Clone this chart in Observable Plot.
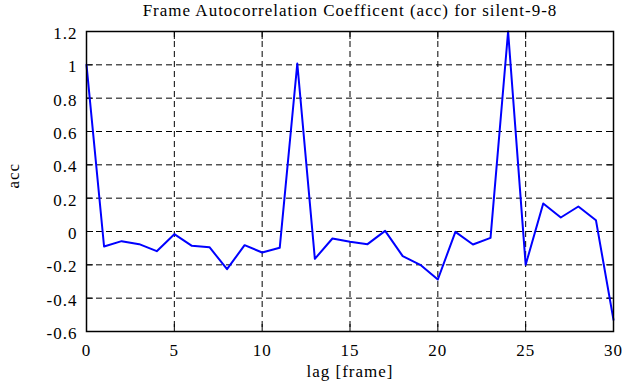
<!DOCTYPE html>
<html>
<head>
<meta charset="utf-8">
<script src="https://cdn.jsdelivr.net/npm/d3@7"></script>
<script src="https://cdn.jsdelivr.net/npm/@observablehq/plot@0.6"></script>
<style>
  html, body { margin: 0; padding: 0; background: #fff; }
  svg { display: block; }
  svg text { font-family: 'Liberation Serif', 'Times New Roman', serif !important; letter-spacing: 1px; }
</style>
</head>
<body>
<div id="chart"></div>
<script>
const titleText = "Frame Autocorrelation Coefficent (acc) for silent-9-8";
const xLabel = "lag [frame]";
const yLabel = "acc";

const lags = [0,1,2,3,4,5,6,7,8,9,10,11,12,13,14,15,16,17,18,19,20,21,22,23,24,25,26,27,28,29,30];
const accValues = [1.0,-0.09,-0.058,-0.076,-0.118,-0.016,-0.086,-0.094,-0.226,-0.082,-0.126,-0.098,1.008,-0.164,-0.042,-0.062,-0.076,0.004,-0.148,-0.2,-0.288,-0.002,-0.078,-0.038,1.2,-0.2,0.168,0.084,0.15,0.068,-0.53];

const xTicks = [0,5,10,15,20,25,30];
const yTicks = [-0.6,-0.4,-0.2,0,0.2,0.4,0.6,0.8,1,1.2];
const yTickLabels = ["-0.6","-0.4","-0.2","0","0.2","0.4","0.6","0.8","1","1.2"];

const data = lags.map((l, i) => ({lag: l, acc: accValues[i]}));
const font = "'Liberation Serif', 'Times New Roman', serif";

const chart = Plot.plot({
  width: 625,
  height: 387,
  marginLeft: 86,
  marginRight: 12,
  marginTop: 31,
  marginBottom: 56,
  style: {fontFamily: font, fontSize: "17px", background: "#fff", color: "#000"},
  x: {domain: [0, 30]},
  y: {domain: [-0.6, 1.2]},
  marks: [
    Plot.gridX(xTicks.slice(1, -1), {stroke: "#000", strokeOpacity: 1, strokeWidth: 1, strokeDasharray: "6,4"}),
    Plot.gridY(yTicks.slice(1, -1), {stroke: "#000", strokeOpacity: 1, strokeWidth: 1, strokeDasharray: "6,4"}),
    Plot.axisX(xTicks, {anchor: "bottom", tickSize: -7, text: null, label: null}),
    Plot.axisX(xTicks, {anchor: "top", tickSize: -7, text: null, label: null}),
    Plot.axisY(yTicks, {anchor: "left", tickSize: -7, text: null, label: null}),
    Plot.axisY(yTicks, {anchor: "right", tickSize: -7, text: null, label: null}),
    Plot.axisX(xTicks, {anchor: "bottom", tickSize: 0, tickPadding: 12, fontSize: 17, fontFamily: font, label: null}),
    Plot.axisY(yTicks, {anchor: "left", tickSize: 0, tickPadding: 9, fontSize: 17, fontFamily: font, dy: 2, label: null,
      tickFormat: (d) => yTickLabels[yTicks.indexOf(d)]}),
    Plot.line(data, {x: "lag", y: "acc", stroke: "#0000ff", strokeWidth: 2}),
    Plot.frame({stroke: "#000", strokeWidth: 1.5}),
    Plot.text([titleText], {frameAnchor: "top", dy: -28, fontSize: 17, fontFamily: font, text: d => d}),
    Plot.text([xLabel], {frameAnchor: "bottom", dy: 45, fontSize: 17, fontFamily: font, text: d => d}),
    Plot.text([yLabel], {frameAnchor: "left", dx: -73, dy: 7, rotate: -90, fontSize: 17, fontFamily: font, text: d => d})
  ]
});
document.getElementById("chart").appendChild(chart);
</script>
</body>
</html>
